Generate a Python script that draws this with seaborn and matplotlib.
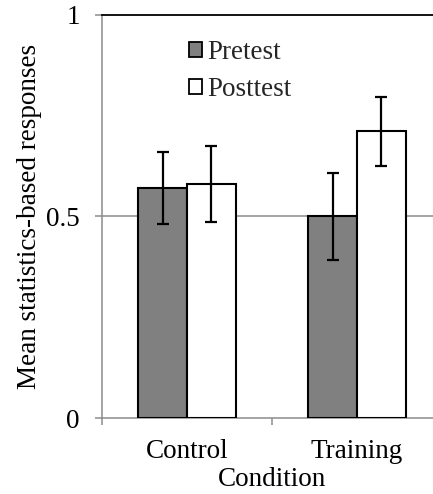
import matplotlib
matplotlib.use("Agg")
import matplotlib.pyplot as plt
import seaborn as sns
import pandas as pd
import numpy as np

conditions = ["Control", "Control", "Training", "Training"]
tests = ["Pretest", "Posttest", "Pretest", "Posttest"]
means = [0.571, 0.581, 0.500, 0.711]
errors = [0.090, 0.095, 0.109, 0.086]
y_ticks = [0, 0.5, 1]
y_tick_labels = ["0", "0.5", "1"]

df = pd.DataFrame({"Condition": conditions, "Test": tests, "Mean": means, "Err": errors})

sns.set_theme(style="white")
plt.rcParams["font.family"] = ["Liberation Serif", "DejaVu Serif"]
FS = 19.5

fig = plt.figure(figsize=(4.33, 4.94), dpi=100)
ax = fig.add_axes([102 / 433, 1 - 418 / 494, 340 / 433, 403 / 494])

sns.barplot(data=df, x="Condition", y="Mean", hue="Test",
            hue_order=["Pretest", "Posttest"],
            palette={"Pretest": "#808080", "Posttest": "#ffffff"},
            errorbar=None, width=0.576, edgecolor="black", linewidth=1.5,
            ax=ax, zorder=3)

# error bars at bar centers from the library's patches
for cont, level in zip(ax.containers, ["Pretest", "Posttest"]):
    sub = df[df["Test"] == level]
    for bar, (_, row) in zip(cont, sub.iterrows()):
        xc = bar.get_x() + bar.get_width() / 2
        ax.errorbar(xc, bar.get_height(), yerr=row["Err"], fmt="none",
                    ecolor="black", elinewidth=1.6, capsize=4.3, capthick=1.6,
                    zorder=4)

ax.set_ylim(0, 1)
ax.set_xlim(-0.5, 1.5)
ax.set_yticks(y_ticks)
ax.set_yticklabels(y_tick_labels, fontsize=FS, color="black")
ax.tick_params(axis="y", which="major", direction="out", length=5, width=1.1,
               color="#8c8c8c", pad=11, left=True)
ax.set_xticks([0, 1])
ax.set_xticklabels(["Control", "Training"], fontsize=FS, color="black")
ax.set_xticks([-0.5, 0.5, 1.5], minor=True)
ax.tick_params(axis="x", which="major", length=0, pad=15)
ax.tick_params(axis="x", which="minor", direction="out", length=5, width=1.1,
               color="#8c8c8c", bottom=True)

ax.axhline(0.5, color="#8c8c8c", lw=1.1, zorder=1)

for s in ["left", "bottom"]:
    ax.spines[s].set_color("#8c8c8c")
    ax.spines[s].set_linewidth(1.1)
ax.spines["top"].set_color("black")
ax.spines["top"].set_linewidth(1.3)
ax.spines["right"].set_visible(False)

ax.set_xlabel("Condition", fontsize=FS, color="black", labelpad=2)
ax.set_ylabel("Mean statistics-based responses", fontsize=FS, color="black", labelpad=3)

leg = ax.legend(loc="upper left", bbox_to_anchor=(87 / 340, 1 - 25 / 403),
                frameon=False, fontsize=FS, handlelength=0.48, handleheight=0.48,
                handletextpad=0.2, labelspacing=0.45, borderpad=0, borderaxespad=0)
for h in leg.legend_handles:
    h.set_edgecolor("black")
    h.set_linewidth(1.3)

fig.savefig("out.png", dpi=100)
